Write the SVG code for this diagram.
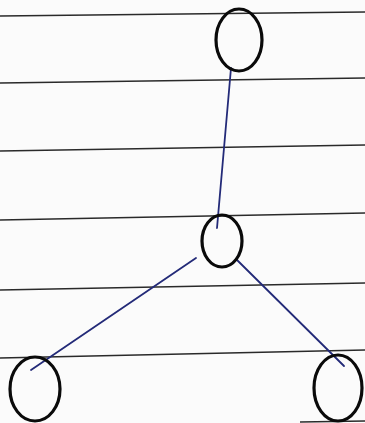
<svg xmlns="http://www.w3.org/2000/svg" width="365" height="423" viewBox="0 0 365 423">
<style>
.rule{stroke:#2a2a2a;stroke-width:1.6;fill:none}
.edge{stroke:#232a78;stroke-width:1.8;fill:none;stroke-linecap:round}
.node{stroke:#0a0a0a;stroke-width:3.2;fill:none}
</style>
<rect width="365" height="423" fill="#fbfbfb"/>
<g id="paper-lines">
<line class="rule" x1="0" y1="16" x2="365" y2="12"/>
<line class="rule" x1="0" y1="83" x2="365" y2="78"/>
<line class="rule" x1="0" y1="151" x2="365" y2="145"/>
<line class="rule" x1="0" y1="220" x2="365" y2="213"/>
<line class="rule" x1="0" y1="290" x2="365" y2="283"/>
<line class="rule" x1="0" y1="358" x2="365" y2="350"/>
<line class="rule" x1="300" y1="422" x2="365" y2="421"/>
</g>
<g id="connectors">
<line class="edge" x1="231" y1="68" x2="217" y2="228"/>
<line class="edge" x1="196" y1="258" x2="31" y2="370"/>
<line class="edge" x1="237" y1="260" x2="344" y2="366"/>
</g>
<g id="node-top"><ellipse class="node" cx="239" cy="40" rx="23" ry="31"/></g>
<g id="node-middle"><ellipse class="node" cx="222" cy="241" rx="20" ry="26"/></g>
<g id="node-bottom-left"><ellipse class="node" cx="35" cy="389" rx="25" ry="32"/></g>
<g id="node-bottom-right"><ellipse class="node" cx="338" cy="388" rx="24" ry="33"/></g>
</svg>
